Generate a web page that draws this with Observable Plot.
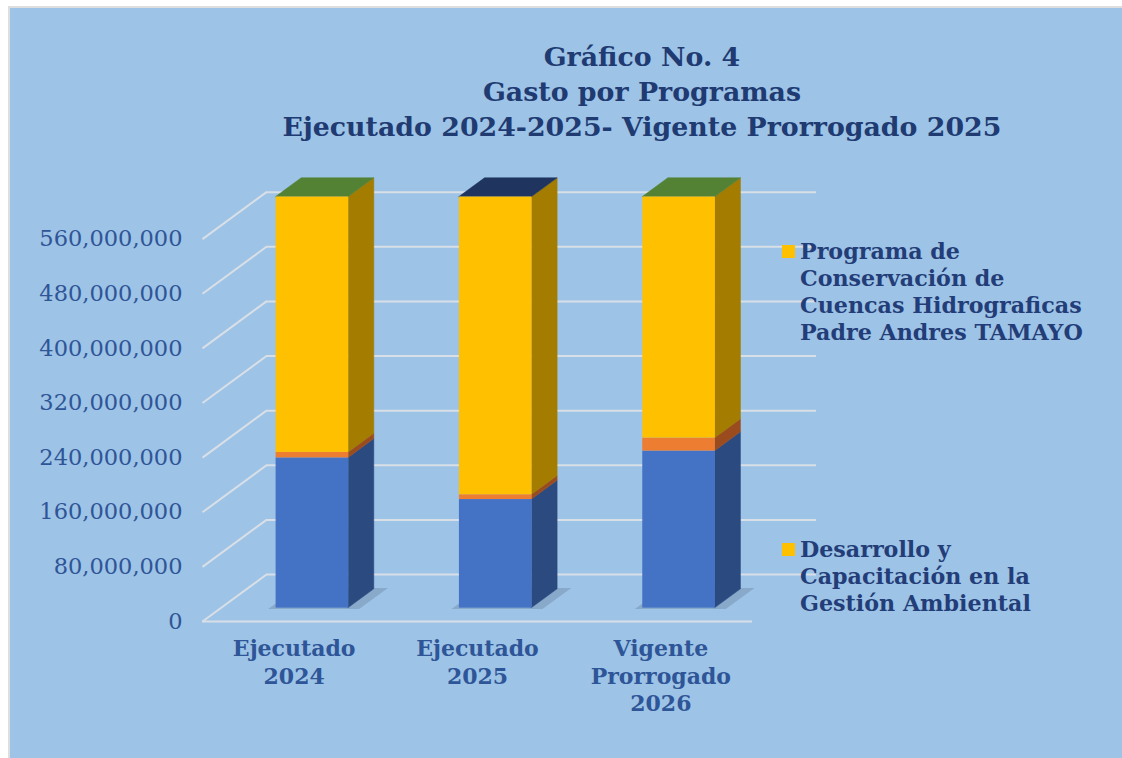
<!DOCTYPE html>
<html><head><meta charset="utf-8">
<script src="https://cdn.jsdelivr.net/npm/d3@7"></script>
<script src="https://cdn.jsdelivr.net/npm/@observablehq/plot@0.6"></script>
<style>
html,body{margin:0;padding:0;background:#fff;}
#wrap{position:relative;width:1122px;height:758px;overflow:hidden;background:#fff;}
#panel{position:absolute;left:8px;top:6px;right:0;bottom:0;background:#9DC3E6;border-left:2px solid #dedede;border-top:2px solid #dedede;}
#chart{position:absolute;left:0;top:0;}
#title{position:absolute;left:242px;width:800px;top:39px;text-align:center;font-family:"DejaVu Serif";font-weight:bold;font-size:26.8px;color:#203A72;line-height:35px;}
.leg{position:absolute;left:782px;font-family:"DejaVu Serif";font-weight:bold;font-size:22.2px;line-height:27px;color:#233D78;}
.leg .sw{position:absolute;left:0;width:13px;height:13px;background:#FFC000;}
.leg .tx{position:absolute;left:18px;white-space:nowrap;}
</style></head>
<body>
<div id="wrap">
  <div id="panel"></div>
  <div id="chart"></div>
  <div id="title"></div>
  <div id="legend"></div>
</div>
<script>
// ---- data ----
const categories = ["Ejecutado\n2024", "Ejecutado\n2025", "Vigente\nProrrogado\n2026"];
const desarrolloValues = [220e6, 159e6, 230e6];   // blue segment
const otrosValues = [8e6, 7e6, 19e6];             // orange segment
const programaValues = [374e6, 436e6, 353e6];     // yellow segment
const topFaceColors = ["#548235", "#1F3560", "#548235"];
const yTicks = [0, 80e6, 160e6, 240e6, 320e6, 400e6, 480e6, 560e6];
const titleLines = ["Gráfico No. 4", "Gasto por Programas", "Ejecutado 2024-2025- Vigente Prorrogado 2025"];
const legendItems = [
  "Programa de\nConservación de\nCuencas Hidrograficas\nPadre Andres TAMAYO",
  "Desarrollo y\nCapacitación en la\nGestión Ambiental"
];

// ---- styles for series ----
const series = [
  {values: desarrolloValues, front: "#4472C4", side: "#2A4A80"},
  {values: otrosValues, front: "#ED7D31", side: "#9B4C1F"},
  {values: programaValues, front: "#FFC000", side: "#A37C00"}
];

// oblique projection of depth (t in [0,1]) into data units
const depthU = 0.349, depthV = 68.8e6;
const P = (u, v, t) => ({x: u + depthU * t, y: v + depthV * t});
const halfW = 0.198, t0 = 0.285, t1 = 0.685;

const fronts = [], sides = [], tops = [], shadows = [];
categories.forEach((c, i) => {
  const u1 = i + 0.5 - halfW, u2 = i + 0.5 + halfW;
  let base = 0;
  series.forEach((s, k) => {
    const a = base, b = base + s.values[i];
    const pa = P(u1, a, t0), pb = P(u2, b, t0);
    fronts.push({x1: pa.x, x2: pb.x, y1: pa.y, y2: pb.y, fill: s.front});
    const id = i + "-" + k;
    [t0, t1].forEach(t => {
      const lo = P(u2, a, t), hi = P(u2, b, t);
      sides.push({id, x: lo.x, y1: lo.y, y2: hi.y, fill: s.side});
    });
    base = b;
  });
  [t0, t1].forEach(t => {
    const l = P(u1, base, t), r = P(u2, base, t);
    tops.push({id: i, y: l.y, x1: l.x, x2: r.x, fill: topFaceColors[i]});
  });
  [t0 - 0.03, t1 + 0.02].forEach(t => {
    const l = P(u1 - 0.03, 0, t), r = P(u2 + 0.07, 0, t);
    shadows.push({id: i, y: l.y, x1: l.x, x2: r.x});
  });
});

const gridColor = "#D9DFE7";
const chart = Plot.plot({
  width: 1122, height: 758,
  marginLeft: 202, marginRight: 370, marginTop: 184, marginBottom: 137,
  style: {background: "transparent", fontFamily: "DejaVu Serif", fontSize: "22.5px", color: "#2F5597", overflow: "visible"},
  x: {domain: [0, 3], axis: null},
  y: {domain: [0, 640e6], ticks: yTicks, tickFormat: d3.format(","), tickSize: 0, tickPadding: 20, label: null},
  color: {type: "identity"},
  marks: [
    // back wall gridlines
    Plot.ruleY(yTicks, {y: d => P(0, d, 1).y, x1: () => depthU, x2: () => 3 + depthU, stroke: gridColor, strokeWidth: 2}),
    // side wall diagonals
    Plot.link(yTicks, {x1: () => 0, y1: d => d, x2: () => depthU, y2: d => P(0, d, 1).y, stroke: gridColor, strokeWidth: 2}),
    // floor front edge
    Plot.ruleY([0], {x1: () => 0, x2: () => 3, stroke: gridColor, strokeWidth: 2}),
    // soft shadows
    Plot.areaX(shadows, {y: "y", x1: "x1", x2: "x2", z: "id", fill: "#3E4F68", fillOpacity: 0.22}),
    // bars
    Plot.areaY(sides, {x: "x", y1: "y1", y2: "y2", z: "id", fill: "fill", stroke: "fill", strokeWidth: 0.5}),
    Plot.areaX(tops, {y: "y", x1: "x1", x2: "x2", z: "id", fill: "fill", stroke: "fill", strokeWidth: 0.5}),
    Plot.rect(fronts, {x1: "x1", x2: "x2", y1: "y1", y2: "y2", fill: "fill"}),
    // category labels
    Plot.text(categories, {x: (d, i) => i + 0.5, y: () => 0, text: d => d, dy: 15, lineAnchor: "top", lineHeight: 1.25,
      fontWeight: "bold", fontSize: 22, fill: "#2E5597"})
  ]
});
document.getElementById("chart").appendChild(chart);

document.getElementById("title").innerHTML = titleLines.map(t => `<div>${t}</div>`).join("");
const legTops = [245, 543];
document.getElementById("legend").innerHTML = legendItems.map((t, i) =>
  `<div class="leg" style="top:${legTops[i]}px"><div class="sw"></div><div class="tx" style="top:-7px">${t.split("\n").join("<br>")}</div></div>`
).join("");
</script>
</body></html>
